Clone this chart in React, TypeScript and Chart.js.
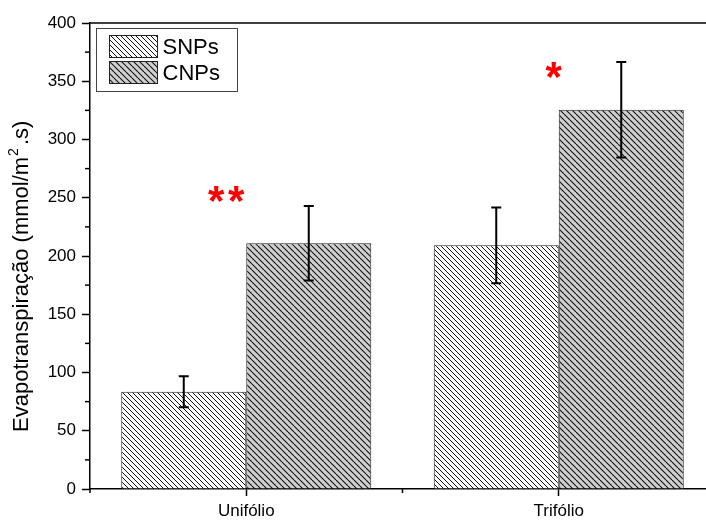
import React, { useEffect, useRef } from "react";
import { Chart, registerables } from "chart.js";

Chart.register(...registerables);

const categories = ["Unifólio", "Trifólio"];
const seriesLabels = ["SNPs", "CNPs"];
const snpsValues = [83.5, 209.2];
const snpsErrors = [13.3, 32.5];
const cnpsValues = [211, 325.5];
const cnpsErrors = [32, 41];
const yMin = 0;
const yMax = 400;
const yStep = 50;
const yMinorStep = 25;
const annotText = ["**", "*"];
const annotCategory = [0, 1];
const annotValue = [251, 357];
const yTitleMain = "Evapotranspiração (mmol/m";
const yTitleSup = "2";
const yTitleEnd = ".s)";

const FONT = "'Liberation Sans', Arial, sans-serif";

function makePattern(bg: string, line: string, period: number, lw: number) {
  const c = document.createElement("canvas");
  c.width = period;
  c.height = period;
  const g = c.getContext("2d")!;
  g.fillStyle = bg;
  g.fillRect(0, 0, period, period);
  g.strokeStyle = line;
  g.lineWidth = lw;
  for (const off of [-period, 0, period]) {
    g.beginPath();
    g.moveTo(off, 0);
    g.lineTo(off + period, period);
    g.stroke();
  }
  const ctx = document.createElement("canvas").getContext("2d")!;
  return ctx.createPattern(c, "repeat") as CanvasPattern;
}

export default function App() {
  const ref = useRef<HTMLCanvasElement>(null);
  useEffect(() => {
    const canvas = ref.current!;
    const patS = makePattern("#ffffff", "#111111", 5, 1);
    const patC = makePattern("#cfcfcf", "#111111", 6, 1.1);
    const errors = [snpsErrors, cnpsErrors];
    const patterns = [patS, patC];

    const extras = {
      id: "extras",
      afterDatasetsDraw(chart: any) {
        const ctx = chart.ctx;
        const ys = chart.scales.y;
        ctx.save();
        ctx.strokeStyle = "#000";
        ctx.lineWidth = 2;
        chart.data.datasets.forEach((ds: any, di: number) => {
          const meta = chart.getDatasetMeta(di);
          meta.data.forEach((el: any, i: number) => {
            const v = ds.data[i];
            const e = errors[di][i];
            const x = el.x;
            const yt = ys.getPixelForValue(v + e);
            const yb = ys.getPixelForValue(v - e);
            const cap = 5;
            ctx.beginPath();
            ctx.moveTo(x, yt);
            ctx.lineTo(x, yb);
            ctx.moveTo(x - cap, yt);
            ctx.lineTo(x + cap, yt);
            ctx.moveTo(x - cap, yb);
            ctx.lineTo(x + cap, yb);
            ctx.stroke();
          });
        });
        ctx.restore();
      },
      afterDraw(chart: any) {
        const ctx = chart.ctx;
        const { left, right, top, bottom } = chart.chartArea;
        const xs = chart.scales.x;
        const ys = chart.scales.y;
        ctx.save();
        // frame top/right
        ctx.strokeStyle = "#000";
        ctx.lineWidth = 1.5;
        ctx.beginPath();
        ctx.moveTo(left, top);
        ctx.lineTo(right, top);
        ctx.lineTo(right, bottom);
        ctx.stroke();
        // minor y ticks
        for (let v = yMin + yMinorStep; v < yMax; v += yStep) {
          const y = ys.getPixelForValue(v);
          ctx.beginPath();
          ctx.moveTo(left - 5, y);
          ctx.lineTo(left, y);
          ctx.stroke();
        }
        // minor x ticks at category boundaries
        for (let i = 0; i <= categories.length; i++) {
          const x = xs.getPixelForValue(i - 0.5);
          ctx.beginPath();
          ctx.moveTo(x, bottom);
          ctx.lineTo(x, bottom + 4);
          ctx.stroke();
        }
        // y title
        ctx.fillStyle = "#000";
        ctx.translate(left - 62, bottom - 57);
        ctx.rotate(-Math.PI / 2);
        ctx.textAlign = "left";
        ctx.textBaseline = "alphabetic";
        ctx.font = `22px ${FONT}`;
        ctx.fillText(yTitleMain, 0, 0);
        let w = ctx.measureText(yTitleMain).width;
        ctx.font = `14px ${FONT}`;
        ctx.fillText(yTitleSup, w + 1, -10);
        w += ctx.measureText(yTitleSup).width + 4;
        ctx.font = `22px ${FONT}`;
        ctx.fillText(yTitleEnd, w, 0);
        ctx.restore();

        // legend
        ctx.save();
        const lx = left + 6.5;
        const ly = top + 5.5;
        ctx.strokeStyle = "#444";
        ctx.lineWidth = 1;
        ctx.strokeRect(lx, ly, 141, 63);
        seriesLabels.forEach((lab, i) => {
          const sy = ly + 7 + i * 26;
          ctx.fillStyle = patterns[i];
          ctx.fillRect(lx + 13, sy, 48, 22);
          ctx.strokeStyle = "#222";
          ctx.strokeRect(lx + 13, sy, 48, 22);
          ctx.fillStyle = "#000";
          ctx.font = `22px ${FONT}`;
          ctx.textBaseline = "middle";
          ctx.textAlign = "left";
          ctx.fillText(lab, lx + 66, sy + 12);
        });
        ctx.restore();

        // significance asterisks
        ctx.save();
        ctx.fillStyle = "#ff0000";
        const fs = 42;
        ctx.font = `bold ${fs}px ${FONT}`;
        ctx.textAlign = "center";
        ctx.textBaseline = "alphabetic";
        const dxs = [-20, -5];
        const adv = 20;
        annotText.forEach((t, i) => {
          const cx = xs.getPixelForValue(annotCategory[i]) + dxs[i];
          const y = ys.getPixelForValue(annotValue[i]) + fs * 0.43;
          const n = t.length;
          for (let k = 0; k < n; k++) {
            ctx.fillText(t[k], cx + (k - (n - 1) / 2) * adv, y);
          }
        });
        ctx.restore();
      },
    };

    const chart = new Chart(canvas, {
      type: "bar",
      data: {
        labels: categories,
        datasets: [
          {
            label: seriesLabels[0],
            data: snpsValues,
            backgroundColor: patS as any,
            borderColor: "#222",
            borderWidth: 1,
            barPercentage: 1,
            categoryPercentage: 0.8,
          },
          {
            label: seriesLabels[1],
            data: cnpsValues,
            backgroundColor: patC as any,
            borderColor: "#222",
            borderWidth: 1,
            barPercentage: 1,
            categoryPercentage: 0.8,
          },
        ],
      },
      options: {
        responsive: false,
        animation: false,
        devicePixelRatio: 1,
        layout: { padding: { top: 23, right: 5, left: 0, bottom: 0 } },
        plugins: { legend: { display: false }, tooltip: { enabled: false } },
        scales: {
          x: {
            type: "category",
            offset: true,
            grid: {
              offset: false,
              drawOnChartArea: false,
              drawTicks: true,
              tickLength: 7,
              tickColor: "#000",
              tickWidth: 1.5,
            },
            border: { display: true, color: "#000", width: 1.5 },
            ticks: { color: "#000", font: { family: FONT, size: 17 }, padding: 5, maxRotation: 0 },
            afterFit: (s: any) => {
              s.height = 31;
            },
          },
          y: {
            min: yMin,
            max: yMax,
            ticks: { stepSize: yStep, color: "#000", font: { family: FONT, size: 17 }, padding: 6 },
            grid: {
              drawOnChartArea: false,
              drawTicks: true,
              tickLength: 8,
              tickColor: "#000",
              tickWidth: 1.5,
            },
            border: { display: true, color: "#000", width: 1.5 },
            afterFit: (s: any) => {
              s.width = 90;
            },
          },
        },
      },
      plugins: [extras],
    });
    return () => chart.destroy();
  }, []);

  return (
    <div
      style={{
        position: "absolute",
        left: 0,
        top: 0,
        width: 706,
        height: 520,
        overflow: "hidden",
        background: "#fff",
      }}
    >
      <canvas ref={ref} width={720} height={520} style={{ display: "block" }} />
    </div>
  );
}
